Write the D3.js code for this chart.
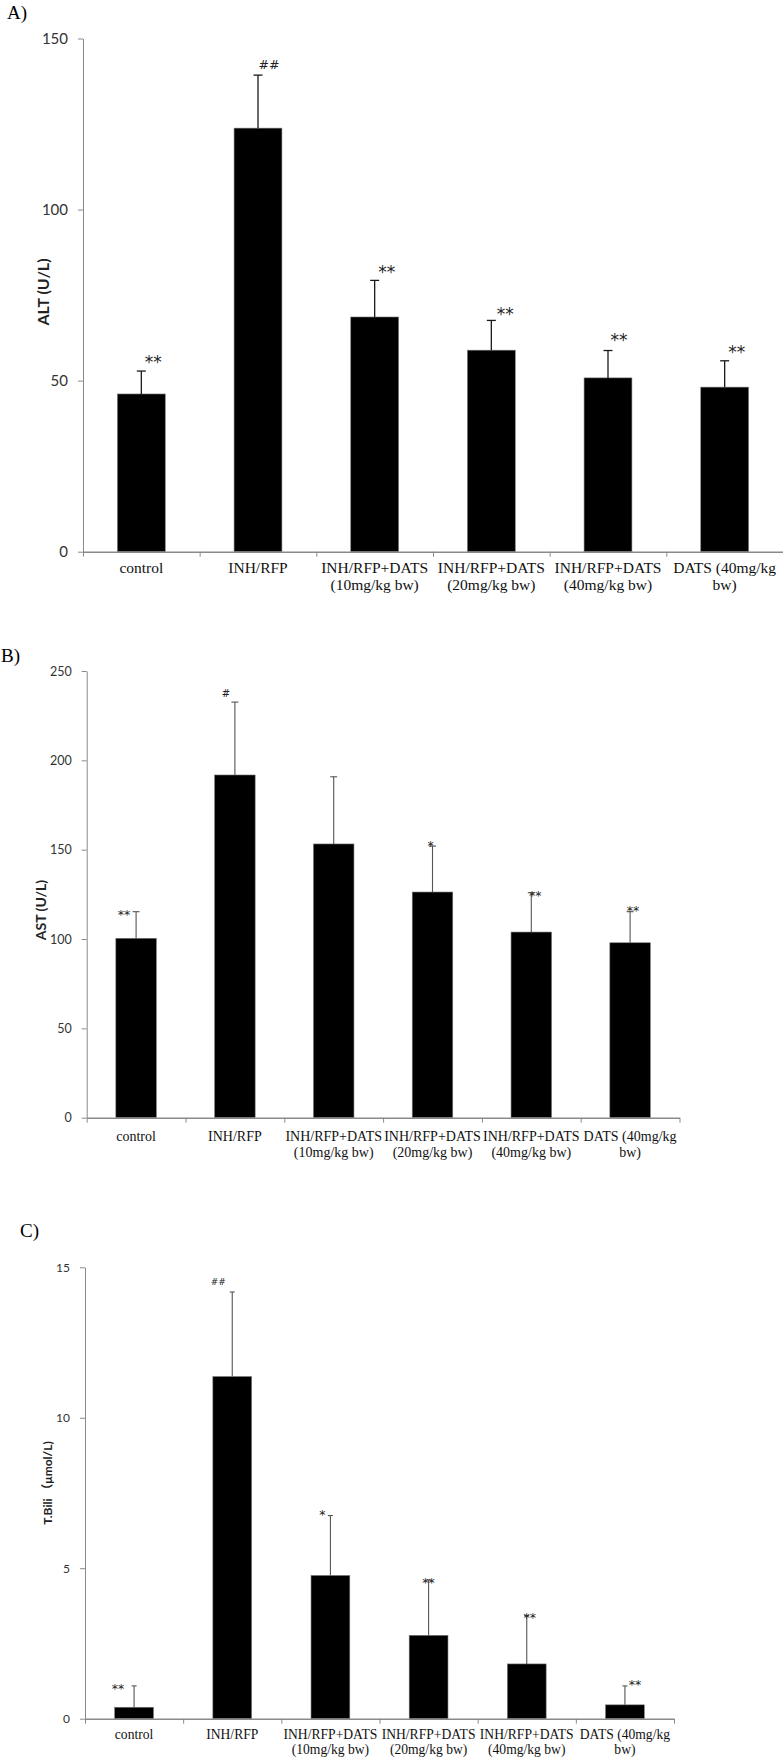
<!DOCTYPE html>
<html><head><meta charset="utf-8">
<script src="https://cdn.jsdelivr.net/npm/d3@7"></script>
<style>body{margin:0;background:#fff}</style></head>
<body><svg id="c" width="783" height="1759"></svg>
<script>
// ---- data ----
const categories = [
  ["control"],
  ["INH/RFP"],
  ["INH/RFP+DATS", "(10mg/kg bw)"],
  ["INH/RFP+DATS", "(20mg/kg bw)"],
  ["INH/RFP+DATS", "(40mg/kg bw)"],
  ["DATS (40mg/kg", "bw)"]
];
const altMean = [46.1, 123.8, 68.6, 58.9, 50.8, 48.1];
const altSD   = [6.7, 15.5, 10.7, 8.7, 8.0, 7.7];
const altSig  = ["**", "##", "**", "**", "**", "**"];
const altTicks = [0, 50, 100, 150];

const astMean = [100.4, 191.8, 153.2, 126.3, 103.9, 97.9];
const astSD   = [14.9, 40.8, 37.6, 25.7, 22.0, 17.4];
const astSig  = ["**", "#", "", "*", "**", "**"];
const astTicks = [0, 50, 100, 150, 200, 250];

const tbilMean = [0.38, 11.37, 4.76, 2.77, 1.82, 0.46];
const tbilSD   = [0.71, 2.81, 1.99, 1.84, 1.61, 0.63];
const tbilSig  = ["**", "##", "*", "**", "**", "**"];
const tbilTicks = [0, 5, 10, 15];

// ---- layout ----
const panels = [
  {label:"A)", lx:7, ly:18.5, title:"ALT (U/L)", tx:42, ty:292, tsize:16,
   mean:altMean, sd:altSD, sig:altSig, ticks:altTicks,
   x0:83, x1:783, yTop:38.5, yBot:551.7, tickFont:15, catFont:15.5, catY:572.7, catLH:17,
   barFrac:0.41, capW:9, errColor:"#1a1a1a", errW:1.3, starSize:17, hashSize:12.5,
   off:[[12,-12],[11,-11],[12,-12],[14,-10],[11,-14],[12,-12]]},
  {label:"B)", lx:1, ly:662, title:"AST (U/L)", tx:40, ty:910, tsize:14,
   mean:astMean, sd:astSD, sig:astSig, ticks:astTicks,
   x0:86.7, x1:679.5, yTop:671, yBot:1117.7, tickFont:12.5, catFont:14, catY:1141, catLH:15.7,
   barFrac:0.41, capW:7, errColor:"#555", errW:1.1, starSize:12.5, hashSize:10,
   off:[[-12,0],[-9,-9],[0,0],[-2,-3],[4,0],[3,-4]]},
  {label:"C)", lx:20, ly:1237, title:"T.Bili （μmol/L)", tx:47, ty:1483, tsize:12,
   mean:tbilMean, sd:tbilSD, sig:tbilSig, ticks:tbilTicks,
   x0:85, x1:674, yTop:1267.3, yBot:1718.7, tickFont:12, catFont:13.6, catY:1738.5, catLH:15.3,
   barFrac:0.395, capW:5, errColor:"#555", errW:1.1, starSize:12.5, hashSize:9,
   off:[[-16,0],[-14,-10],[-8,-3],[0,0],[3,0],[10,-4]]}
];

const svg = d3.select("#c");
svg.append("rect").attr("width",783).attr("height",1759).attr("fill","#fff");

panels.forEach(p => {
  const g = svg.append("g");
  const n = categories.length;
  const ymax = p.ticks[p.ticks.length-1];
  const y = d3.scaleLinear().domain([0, ymax]).range([p.yBot, p.yTop]);
  const xb = d3.scaleLinear().domain([0, n]).range([p.x0, p.x1]);
  const x = d3.scaleBand().domain(d3.range(n)).range([p.x0, p.x1]).paddingInner(1 - p.barFrac).paddingOuter((1 - p.barFrac)/2);

  // panel label
  g.append("text").attr("x", p.lx).attr("y", p.ly)
    .attr("font-family","'Liberation Serif', serif").attr("font-size",19).attr("fill","#000").text(p.label);

  // y axis
  const ya = g.append("g").attr("transform",`translate(${p.x0},0)`)
    .call(d3.axisLeft(y).tickValues(p.ticks).tickSize(5).tickSizeOuter(0).tickPadding(10));
  ya.select(".domain").attr("stroke","#8a8a8a");
  ya.selectAll(".tick line").attr("stroke","#8a8a8a");
  ya.selectAll(".tick text").attr("font-family","Lato, 'Open Sans', sans-serif")
    .attr("font-size",p.tickFont).attr("fill","#333");

  // y title
  g.append("text").attr("transform",`translate(${p.tx},${p.ty}) rotate(-90)`)
    .attr("text-anchor","middle").attr("dominant-baseline","central")
    .attr("font-family","Lato, 'Noto Sans CJK SC', sans-serif").attr("font-weight","bold")
    .attr("font-size",p.tsize).attr("fill","#222").text(p.title);

  // bars
  g.selectAll("rect.bar").data(p.mean).join("rect").attr("class","bar")
    .attr("x",(d,i)=>x(i)).attr("width",x.bandwidth())
    .attr("y",d=>y(d)).attr("height",d=>p.yBot - y(d))
    .attr("fill","#000").attr("stroke","#777").attr("stroke-width",0.6);

  // error bars
  const cx = i => x(i) + x.bandwidth()/2;
  g.selectAll("line.err").data(p.mean).join("line").attr("class","err")
    .attr("x1",(d,i)=>cx(i)).attr("x2",(d,i)=>cx(i))
    .attr("y1",d=>y(d)).attr("y2",(d,i)=>y(d + p.sd[i]))
    .attr("stroke",p.errColor).attr("stroke-width",p.errW);
  g.selectAll("line.cap").data(p.mean).join("line").attr("class","cap")
    .attr("x1",(d,i)=>cx(i)-p.capW/2).attr("x2",(d,i)=>cx(i)+p.capW/2)
    .attr("y1",(d,i)=>y(d + p.sd[i])).attr("y2",(d,i)=>y(d + p.sd[i]))
    .attr("stroke",p.errColor).attr("stroke-width",p.errW);

  // significance marks
  g.selectAll("text.sig").data(p.sig).join("text").attr("class","sig")
    .attr("x",(d,i)=>cx(i) + p.off[i][0])
    .attr("y",(d,i)=>{
      const c = y(p.mean[i] + p.sd[i]) + p.off[i][1];
      return d.startsWith("#") ? c + 0.36*p.hashSize : c + 0.55*p.starSize;
    })
    .attr("text-anchor","middle")
    .attr("font-family","'DejaVu Sans', sans-serif")
    .attr("font-size",d=>d.startsWith("#") ? p.hashSize : p.starSize)
    .attr("fill","#222").text(d=>d);

  // x axis
  const xa = g.append("g").attr("transform",`translate(0,${p.yBot})`)
    .call(d3.axisBottom(xb).tickValues(d3.range(n+1)).tickSize(5).tickSizeOuter(0).tickFormat(""));
  xa.select(".domain").attr("stroke","#8a8a8a").attr("stroke-width",1.4);
  xa.selectAll(".tick line").attr("stroke","#8a8a8a");

  // category labels
  const cl = g.selectAll("text.cat").data(categories).join("text").attr("class","cat")
    .attr("text-anchor","middle")
    .attr("font-family","'Liberation Serif', serif").attr("font-size",p.catFont).attr("fill","#111");
  cl.each(function(lines,i){
    d3.select(this).selectAll("tspan").data(lines).join("tspan")
      .attr("x", xb(i+0.5)).attr("y",(t,k)=>p.catY + k*p.catLH).text(t=>t);
  });
});
</script>
</body></html>
